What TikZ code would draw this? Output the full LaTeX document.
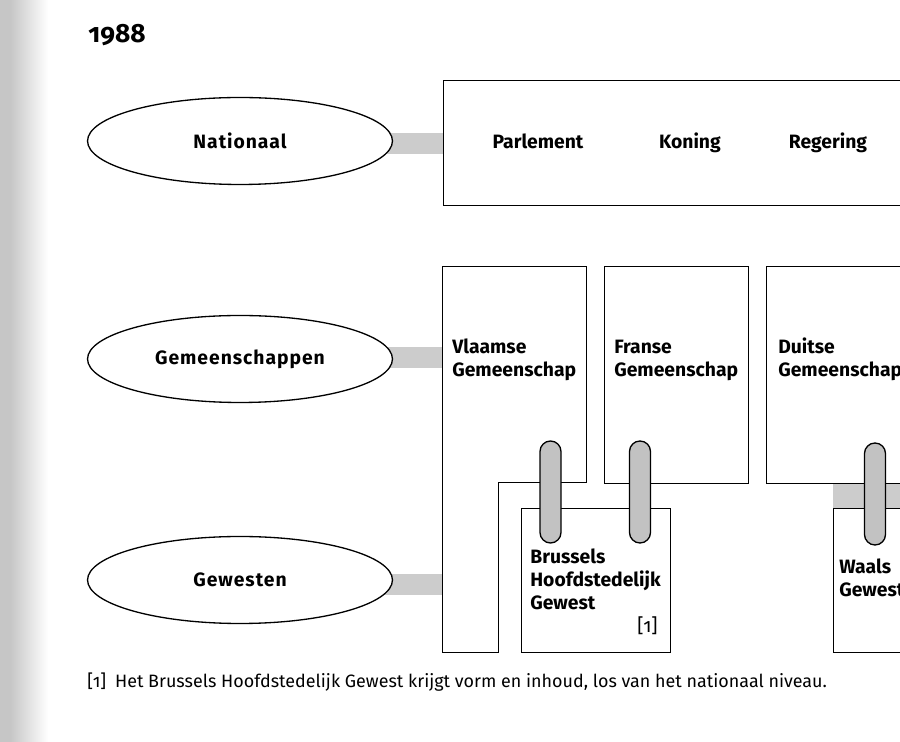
\documentclass[tikz,border=0pt]{standalone}
\usepackage{fontspec}
\setmainfont{Fira Sans}[Numbers=OldStyle]
\usetikzlibrary{shapes.geometric,backgrounds}
\newcommand\lblfont{\fontsize{11}{13.1}\selectfont\bfseries}

\begin{document}
\begin{tikzpicture}[x=0.02cm,y=-0.02cm,
  lijn/.style={line width=0.75pt},
  niveau/.style={ellipse,draw,lijn,fill=white,minimum width=6.1cm,minimum height=1.74cm,inner sep=0pt,
    font=\lblfont\addfontfeatures{LetterSpace=5}},
  box/.style={draw,lijn,rectangle,anchor=north west,inner sep=0pt},
  tekst/.style={anchor=base west,inner sep=0pt,align=left,font=\lblfont},
  band/.style={line width=0.42cm,gray!40},
  klem/.style={draw,lijn,fill=gray!48,rectangle,rounded corners=0.21cm,minimum width=0.42cm,minimum height=2.04cm,inner sep=0pt}]

\clip (0,0) rectangle (900,742);

% schaduw van de scan
\fill[gray!45] (0,0) rectangle (10,742);
\shade[left color=gray!45,right color=white] (10,0) rectangle (48,742);

\node[anchor=base west,inner sep=0pt,font=\fontsize{15}{18}\selectfont\bfseries] (jaar) at (88,43) {1988};

% niveaus
\node[niveau] (nat) at (240,141) {Nationaal};
\node[niveau] (gem) at (240,359) {Gemeenschappen};
\node[niveau] (gew) at (240,580) {Gewesten};

% nationaal
\node[box,minimum width=9.6cm,minimum height=2.5cm] (natbox) at (443,80) {};
\node[anchor=base,inner sep=0pt,font=\lblfont] (parl) at (538,149) {Parlement};
\node[anchor=base,inner sep=0pt,font=\lblfont] (kon) at (690,149) {Koning};
\node[anchor=base,inner sep=0pt,font=\lblfont] (reg) at (828,149) {Regering};

% gemeenschappen
\draw[lijn] (442.5,266.5) -- (586.5,266.5) -- (586.5,482.5) -- (498.5,482.5) -- (498.5,652.5) -- (442.5,652.5) -- cycle;
\coordinate (vlgem) at (442,357.5);
\coordinate (vlgew) at (442,584.5);
\node[box,minimum width=2.88cm,minimum height=4.34cm] (frans) at (604,266) {};
\node[box,minimum width=3.2cm,minimum height=4.34cm] (duits) at (766,266) {};

% base = laatste regel
\node[tekst] (vltxt) at (452,377) {Vlaamse\\Gemeenschap};
\node[tekst] (frtxt) at (614,377) {Franse\\Gemeenschap};
\node[tekst] (dutxt) at (778,377) {Duitse\\Gemeenschap};

% gewesten
\node[box,minimum width=2.98cm,minimum height=2.88cm] (bru) at (521,508) {};
\node[box,minimum width=1.8cm,minimum height=2.88cm] (waals) at (833,508) {};

\node[tekst] (brutxt) at (530,610) {Brussels\\Hoofdstedelijk\\Gewest};
\node[anchor=base east,inner sep=0pt,font=\fontsize{11}{13}\selectfont] (noot) at (658,633) {[1]};
\node[tekst] (watxt) at (839,597) {Waals\\Gewest};

% verbindingen
\begin{scope}[on background layer]
\draw[band] (nat.center |- natbox.west) -- (natbox.west);
\draw[band] (gem.center |- vlgem) -- (vlgem);
\draw[band] (gew.center |- vlgew) -- (vlgew);
\fill[gray!40] (waals.north west) rectangle (duits.south east);
\end{scope}

\node[klem] (klemvb) at (550.5,492) {};
\node[klem] (klemfb) at (640,492) {};
\node[klem] (klemdw) at (875,494) {};

\node[anchor=base west,inner sep=0pt,font=\fontsize{10.2}{12}\selectfont] (voetnoot) at (87,688)
  {[1]\enspace Het Brussels Hoofdstedelijk Gewest krijgt vorm en inhoud, los van het nationaal niveau.};
\end{tikzpicture}
\end{document}
